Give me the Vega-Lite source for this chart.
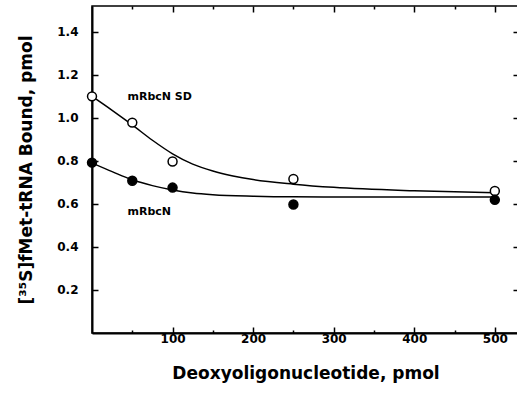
{
  "$schema": "https://vega.github.io/schema/vega-lite/v6.json",
  "width": 427,
  "height": 327,
  "autosize": {"type": "none"},
  "padding": {"left": 92, "top": 6, "right": 0, "bottom": 72},
  "background": "white",
  "config": {
    "view": {"stroke": "black", "strokeWidth": 1.5},
    "font": "DejaVu Sans"
  },
  "datasets": {
    "curves": [
      {"series": "mRbcN SD", "x": 0, "y": 1.10},
      {"series": "mRbcN SD", "x": 25, "y": 1.035},
      {"series": "mRbcN SD", "x": 50, "y": 0.967},
      {"series": "mRbcN SD", "x": 75, "y": 0.896},
      {"series": "mRbcN SD", "x": 100, "y": 0.833},
      {"series": "mRbcN SD", "x": 125, "y": 0.785},
      {"series": "mRbcN SD", "x": 150, "y": 0.753},
      {"series": "mRbcN SD", "x": 175, "y": 0.73},
      {"series": "mRbcN SD", "x": 200, "y": 0.713},
      {"series": "mRbcN SD", "x": 250, "y": 0.692},
      {"series": "mRbcN SD", "x": 300, "y": 0.677},
      {"series": "mRbcN SD", "x": 400, "y": 0.661},
      {"series": "mRbcN SD", "x": 500, "y": 0.652},
      {"series": "mRbcN", "x": 0, "y": 0.79},
      {"series": "mRbcN", "x": 25, "y": 0.75},
      {"series": "mRbcN", "x": 50, "y": 0.712},
      {"series": "mRbcN", "x": 75, "y": 0.685},
      {"series": "mRbcN", "x": 100, "y": 0.665},
      {"series": "mRbcN", "x": 125, "y": 0.651},
      {"series": "mRbcN", "x": 150, "y": 0.643},
      {"series": "mRbcN", "x": 200, "y": 0.636},
      {"series": "mRbcN", "x": 250, "y": 0.633},
      {"series": "mRbcN", "x": 350, "y": 0.632},
      {"series": "mRbcN", "x": 500, "y": 0.632}
    ],
    "points": [
      {"series": "mRbcN SD", "x": 0, "y": 1.10},
      {"series": "mRbcN SD", "x": 50, "y": 0.978},
      {"series": "mRbcN SD", "x": 100, "y": 0.797},
      {"series": "mRbcN SD", "x": 250, "y": 0.716},
      {"series": "mRbcN SD", "x": 500, "y": 0.66},
      {"series": "mRbcN", "x": 0, "y": 0.792},
      {"series": "mRbcN", "x": 50, "y": 0.708},
      {"series": "mRbcN", "x": 100, "y": 0.676},
      {"series": "mRbcN", "x": 250, "y": 0.597},
      {"series": "mRbcN", "x": 500, "y": 0.619}
    ],
    "labels": [
      {"text": "mRbcN SD", "x": 44, "y": 1.095},
      {"text": "mRbcN", "x": 44, "y": 0.563}
    ]
  },
  "layer": [
    {
      "data": {"name": "curves"},
      "mark": {"type": "line", "interpolate": "monotone", "color": "black", "strokeWidth": 1.5, "clip": true},
      "encoding": {
        "x": {
          "field": "x", "type": "quantitative",
          "scale": {"domain": [0, 530], "nice": false, "zero": false},
          "axis": {
            "orient": "bottom",
            "values": [50, 100, 150, 200, 250, 300, 350, 400, 450, 500],
            "labelExpr": "datum.value % 100 === 0 ? datum.label : ''",
            "format": "d",
            "grid": false,
            "domainColor": "black", "domainWidth": 2,
            "tickColor": "black", "tickWidth": 1.5,
            "tickSize": {"condition": {"test": "datum.value % 100 === 0", "value": -6}, "value": -3},
            "labelPadding": 6,
            "labelFont": "DejaVu Sans", "labelFontWeight": "bold", "labelFontSize": 12, "labelColor": "black",
            "labelFlush": false,
            "title": "Deoxyoligonucleotide, pmol",
            "titleFont": "DejaVu Sans", "titleFontWeight": "bold", "titleFontSize": 17, "titleColor": "black",
            "titlePadding": 21
          }
        },
        "y": {
          "field": "y", "type": "quantitative",
          "scale": {"domain": [0, 1.52], "nice": false, "zero": false},
          "axis": {
            "orient": "left",
            "values": [0.2, 0.4, 0.6, 0.8, 1.0, 1.2, 1.4],
            "format": ".1f",
            "grid": false,
            "domainColor": "black", "domainWidth": 2,
            "tickColor": "black", "tickWidth": 1.5, "tickSize": -6,
            "labelPadding": 20,
            "labelFont": "DejaVu Sans", "labelFontWeight": "bold", "labelFontSize": 12, "labelColor": "black",
            "labelFlush": false,
            "title": "[³⁵S]fMet-tRNA Bound, pmol",
            "titleFont": "DejaVu Sans", "titleFontWeight": "bold", "titleFontSize": 17, "titleColor": "black",
            "titlePadding": 21
          }
        },
        "detail": {"field": "series"}
      }
    },
    {
      "data": {"name": "points"},
      "mark": {"type": "point", "shape": "circle", "size": 80, "stroke": "black", "strokeWidth": 1.5, "opacity": 1, "filled": false, "clip": false},
      "encoding": {
        "x": {
          "field": "x", "type": "quantitative",
          "axis": {
            "orient": "top",
            "values": [50, 100, 150, 200, 250, 300, 350, 400, 450, 500],
            "labels": false, "title": null, "grid": false,
            "domain": false,
            "tickColor": "black", "tickWidth": 1.5,
            "tickSize": {"condition": {"test": "datum.value % 100 === 0", "value": -6}, "value": -3}
          }
        },
        "y": {
          "field": "y", "type": "quantitative",
          "axis": {
            "orient": "right",
            "values": [0.2, 0.4, 0.6, 0.8, 1.0, 1.2, 1.4],
            "labels": false, "title": null, "grid": false,
            "domain": false,
            "tickColor": "black", "tickWidth": 1.5, "tickSize": -6
          }
        },
        "fill": {
          "field": "series", "type": "nominal",
          "scale": {"domain": ["mRbcN SD", "mRbcN"], "range": ["white", "black"]},
          "legend": null
        }
      }
    },
    {
      "data": {"name": "labels"},
      "mark": {"type": "text", "align": "left", "baseline": "middle", "font": "DejaVu Sans", "fontWeight": "bold", "fontSize": 11, "color": "black"},
      "encoding": {
        "x": {"field": "x", "type": "quantitative", "axis": null},
        "y": {"field": "y", "type": "quantitative", "axis": null},
        "text": {"field": "text"}
      }
    }
  ],
  "resolve": {"axis": {"x": "independent", "y": "independent"}}
}
